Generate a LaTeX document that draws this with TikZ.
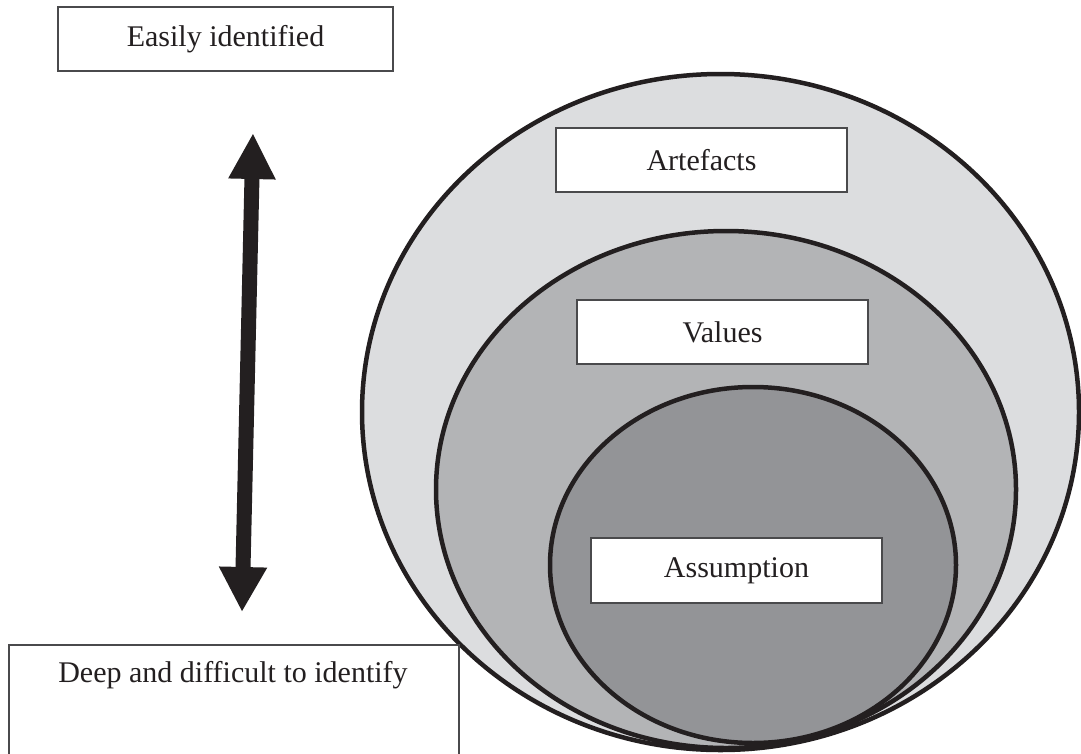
\documentclass[tikz,border=0pt]{standalone}
\usepackage{fontspec}
\setmainfont{Liberation Serif}
\usetikzlibrary{arrows.meta}
\definecolor{ink}{HTML}{231F20}
\definecolor{layerA}{HTML}{DCDDDF}
\definecolor{layerB}{HTML}{B3B4B6}
\definecolor{layerC}{HTML}{939497}
\definecolor{frame}{HTML}{4A4A4C}
\begin{document}
\begin{tikzpicture}[x=1pt,y=-1pt,
  layer/.style={draw=ink,line width=4.5pt},
  label box/.style={draw=frame,line width=1.8pt,fill=white,inner sep=0pt,
    font=\fontsize{30}{35}\selectfont,text=ink},
  plain text/.style={inner sep=0pt,font=\fontsize{30}{35}\selectfont,text=ink},
  depth arrow/.style={draw=ink,line width=15pt,
    {Triangle[width=44pt,length=46pt]}-{Triangle[width=45pt,length=45pt]}}]
\useasboundingbox (0,0) rectangle (1081,753);
\fill[white] (0,0) rectangle (1081,753);

% nested cultural layers
\draw[layer,fill=layerA] (720.5,412) ellipse [x radius=358.5,y radius=338];
\draw[layer,fill=layerB] (726,489.5) ellipse [x radius=290,y radius=258.5];
\draw[layer,fill=layerC] (753,565) ellipse [x radius=203,y radius=178];

% layer labels
\node[label box,minimum width=291,minimum height=64] (artefacts) at (701.5,160) {Artefacts};
\node[label box,minimum width=291,minimum height=64] (values) at (722.5,332) {Values};
\node[label box,minimum width=291,minimum height=65] (assumption) at (736.5,570.5) {Assumption};

% visibility scale
\node[label box,minimum width=335,minimum height=64] (easy) at (225.5,39) {Easily identified};
\node[label box,anchor=north west,minimum width=450,minimum height=126] (deep) at (8,644) {};
\node[plain text,anchor=base] (deeptext) at (233,682) {Deep and difficult to identify};

\coordinate (uptip) at (253,133);
\coordinate (downtip) at (242,612);
\draw[depth arrow] (uptip) -- (downtip);
\end{tikzpicture}
\end{document}
